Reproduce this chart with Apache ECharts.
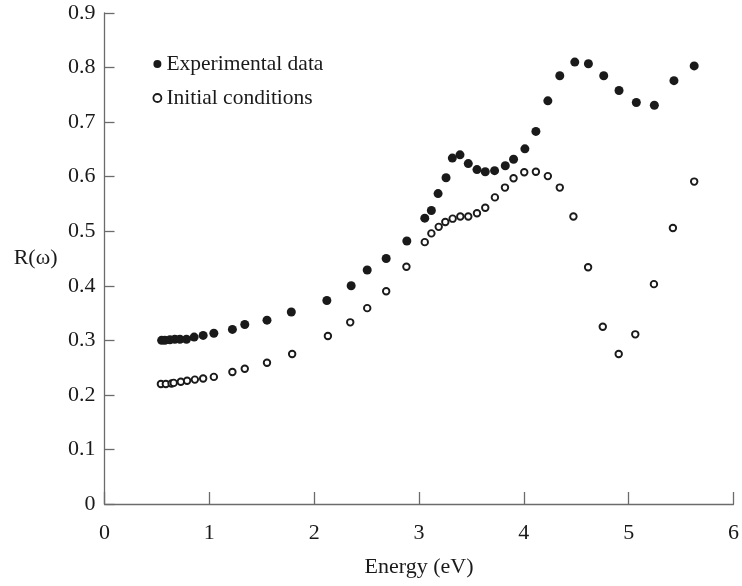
<!DOCTYPE html>
<html>
<head>
<meta charset="utf-8">
<script src="https://cdn.jsdelivr.net/npm/echarts@6/dist/echarts.min.js"></script>
<style>html,body{margin:0;padding:0;background:#fff}#c{width:742px;height:586px}</style>
</head>
<body>
<div id="c"></div>
<script>
var expEnergy = [0.545,0.576,0.624,0.671,0.719,0.782,0.855,0.941,1.043,1.220,1.338,1.550,1.782,2.121,2.353,2.506,2.687,2.884,3.055,3.118,3.182,3.258,3.318,3.391,3.470,3.553,3.632,3.721,3.823,3.902,4.010,4.115,4.229,4.343,4.486,4.616,4.762,4.908,5.073,5.245,5.432,5.625];
var expR = [0.300,0.300,0.301,0.302,0.302,0.302,0.306,0.309,0.313,0.320,0.329,0.337,0.352,0.373,0.400,0.429,0.450,0.482,0.524,0.538,0.569,0.598,0.634,0.640,0.624,0.613,0.609,0.611,0.620,0.632,0.651,0.683,0.739,0.785,0.810,0.807,0.785,0.758,0.736,0.731,0.776,0.803];
var initEnergy = [0.538,0.585,0.640,0.660,0.728,0.788,0.862,0.941,1.043,1.220,1.338,1.550,1.790,2.131,2.344,2.506,2.687,2.880,3.055,3.118,3.188,3.251,3.321,3.394,3.470,3.553,3.632,3.724,3.820,3.902,4.004,4.115,4.229,4.343,4.473,4.613,4.753,4.905,5.063,5.241,5.422,5.625];
var initR = [0.220,0.220,0.221,0.222,0.224,0.226,0.228,0.230,0.233,0.242,0.248,0.259,0.275,0.308,0.333,0.359,0.390,0.435,0.480,0.496,0.508,0.517,0.523,0.527,0.527,0.533,0.543,0.562,0.580,0.597,0.608,0.609,0.601,0.580,0.527,0.434,0.325,0.275,0.311,0.403,0.506,0.591];
var xTicks = [0,1,2,3,4,5,6];
var yTicks = [0,0.1,0.2,0.3,0.4,0.5,0.6,0.7,0.8,0.9];
var seriesNames = ['Experimental data','Initial conditions'];

function pairs(xs, ys){ return xs.map(function(x,i){ return [x, ys[i]]; }); }

var FONT = '"Liberation Serif","Times New Roman",serif';
var axisColor = '#6b6b6b';
var textColor = '#1a1a1a';

var chart = echarts.init(document.getElementById('c'), null, {renderer:'canvas'});
chart.setOption({
  animation:false,
  backgroundColor:'#fff',
  grid:{left:104.5, right:7.3, top:13, bottom:82, containLabel:false},
  legend:{
    orient:'vertical', left:152.5, top:53, padding:0,
    itemWidth:8, itemHeight:8, itemGap:12,
    textStyle:{fontFamily:FONT, fontSize:21.5, color:textColor},
    data:[
      {name:seriesNames[0], icon:'circle', itemStyle:{color:'#1a1a1a', borderWidth:0}},
      {name:seriesNames[1], icon:'circle', itemStyle:{color:'#fff', borderColor:'#1a1a1a', borderWidth:1.8}}
    ]
  },
  xAxis:{
    type:'value', min:xTicks[0], max:xTicks[xTicks.length-1], interval:1,
    name:'Energy (eV)', nameLocation:'middle', nameGap:52,
    nameTextStyle:{fontFamily:FONT, fontSize:22, color:textColor},
    axisLine:{lineStyle:{color:axisColor, width:1.3}},
    axisTick:{inside:true, length:12, lineStyle:{color:axisColor, width:1.3}},
    axisLabel:{margin:18, fontFamily:FONT, fontSize:22, color:textColor},
    splitLine:{show:false}
  },
  yAxis:{
    type:'value', min:yTicks[0], max:yTicks[yTicks.length-1], interval:0.1,
    name:'R(\u03c9)', nameLocation:'middle', nameGap:47, nameRotate:0,
    nameTextStyle:{fontFamily:FONT, fontSize:22, color:textColor},
    axisLine:{show:true, lineStyle:{color:axisColor, width:1.3}},
    axisTick:{show:true, inside:true, length:10, lineStyle:{color:axisColor, width:1.3}},
    axisLabel:{margin:9, fontFamily:FONT, fontSize:22, color:textColor,
      formatter:function(v){ return Math.abs(v)<1e-9 ? '0' : v.toFixed(1); }},
    splitLine:{show:false}
  },
  series:[
    {name:seriesNames[0], type:'scatter', data:pairs(expEnergy, expR),
     symbol:'circle', symbolSize:9, itemStyle:{color:'#1a1a1a', opacity:1}},
    {name:seriesNames[1], type:'scatter', data:pairs(initEnergy, initR),
     symbol:'circle', symbolSize:6.5, itemStyle:{color:'#fff', borderColor:'#1a1a1a', borderWidth:1.9, opacity:1}}
  ]
});
</script>
</body>
</html>
